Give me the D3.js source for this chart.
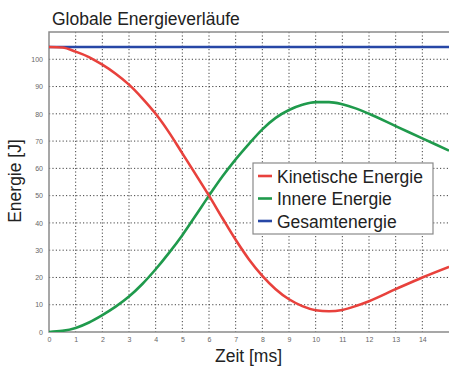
<!DOCTYPE html>
<html>
<head>
<meta charset="utf-8">
<script src="https://cdn.jsdelivr.net/npm/d3@7"></script>
<style>
  html, body { margin: 0; padding: 0; background: #fff; }
  svg { display: block; }
</style>
</head>
<body>
<svg id="chart" width="449" height="367"></svg>
<script>
// ---- data ----
const times   = [0,0.5,1,1.5,2,2.5,3,3.5,4,4.5,5,5.5,6,6.5,7,7.5,8,8.5,9,9.5,10,10.5,11,11.5,12,13,14,15];
const kinetic = [104.5,104.3,102.8,100.8,98,94.7,90.7,85.7,80,73.2,65.5,57.8,50,41.8,33.8,26.6,20.6,15.7,12,9.5,8,7.6,8.1,9.5,11.3,15.7,20,23.9];
const inner   = [0,0.4,1.5,3.5,6.2,9.3,13,17.6,23,29,35.5,42.7,50,57,63.3,69,74.3,78.5,81.4,83.3,84.3,84.3,83.5,82,80,75.5,71,66.5];
const total   = [104.5,104.5,104.5,104.5,104.5,104.5,104.5,104.5,104.5,104.5,104.5,104.5,104.5,104.5,104.5,104.5,104.5,104.5,104.5,104.5,104.5,104.5,104.5,104.5,104.5,104.5,104.5,104.5];
const seriesNames = ["Kinetische Energie","Innere Energie","Gesamtenergie"];
const xTicks = [0,1,2,3,4,5,6,7,8,9,10,11,12,13,14];
const yTicks = [0,10,20,30,40,50,60,70,80,90,100];
const title = "Globale Energieverläufe";
const xLabel = "Zeit [ms]";
const yLabel = "Energie [J]";

// ---- layout ----
const colors = ["#e8413c", "#1f9a4c", "#2747a6"];
const svg = d3.select("#chart");
const L = 49, R = 449, T = 32, B = 332;
const x = d3.scaleLinear().domain([0, 15]).range([L, R]);
const y = d3.scaleLinear().domain([0, 110]).range([B, T]);
const font = "'Liberation Sans', Arial, sans-serif";

svg.append("defs").append("clipPath").attr("id", "clip")
  .append("rect").attr("x", L).attr("y", T).attr("width", R - L).attr("height", B - T);

// grid
const grid = svg.append("g");
grid.selectAll("line.v").data(xTicks.slice(1)).enter().append("line")
  .attr("x1", d => x(d)).attr("x2", d => x(d)).attr("y1", T).attr("y2", B)
  .attr("stroke", "#444").attr("stroke-width", 1).attr("stroke-dasharray", "1.2,2.2");
grid.selectAll("line.h").data(yTicks.slice(1)).enter().append("line")
  .attr("x1", L).attr("x2", R).attr("y1", d => y(d)).attr("y2", d => y(d))
  .attr("stroke", "#444").attr("stroke-width", 1).attr("stroke-dasharray", "1.2,2.2");

// frame
svg.append("rect").attr("x", L).attr("y", T).attr("width", R - L + 2).attr("height", B - T)
  .attr("fill", "none").attr("stroke", "#8a8a8a").attr("stroke-width", 1.5);

// axes via d3
const xAxis = d3.axisBottom(x).tickValues(xTicks).tickSize(0).tickPadding(5).tickFormat(d3.format("d"));
const gx = svg.append("g").attr("transform", `translate(0,${B})`).call(xAxis);
gx.select(".domain").remove();
gx.selectAll("text").attr("font-size", 7).attr("fill", "#666").attr("font-family", font);

const yAxis = d3.axisLeft(y).tickValues(yTicks).tickSize(0).tickPadding(6).tickFormat(d3.format("d"));
const gy = svg.append("g").attr("transform", `translate(${L},0)`).call(yAxis);
gy.select(".domain").remove();
gy.selectAll("text").attr("font-size", 7).attr("fill", "#666").attr("font-family", font);

// lines
const series = [kinetic, inner, total];
const line = d3.line().x((d, i) => x(times[i])).y(d => y(d)).curve(d3.curveMonotoneX);
const lg = svg.append("g").attr("clip-path", "url(#clip)");
[2, 1, 0].forEach(k => {
  lg.append("path").datum(series[k]).attr("d", line)
    .attr("fill", "none").attr("stroke", colors[k]).attr("stroke-width", 2.6)
    .attr("stroke-linejoin", "round");
});

// legend
const leg = svg.append("g");
leg.append("rect").attr("x", 253).attr("y", 163).attr("width", 180).attr("height", 71)
  .attr("fill", "#fff").attr("stroke", "#8a8a8a").attr("stroke-width", 1.2);
seriesNames.forEach((n, i) => {
  const cy = 176 + i * 22.5;
  leg.append("line").attr("x1", 258).attr("x2", 272).attr("y1", cy).attr("y2", cy)
    .attr("stroke", colors[i]).attr("stroke-width", 2.6);
  leg.append("text").attr("x", 277).attr("y", cy + 6.5).text(n)
    .attr("font-family", font).attr("font-size", 17.5).attr("fill", "#222");
});

// titles
svg.append("text").attr("x", 52).attr("y", 25).text(title)
  .attr("font-family", font).attr("font-size", 17.5).attr("fill", "#222");
svg.append("text").attr("x", (215 + 282) / 2).attr("y", 362).attr("text-anchor", "middle").text(xLabel)
  .attr("font-family", font).attr("font-size", 17.5).attr("fill", "#222");
svg.append("text").attr("transform", "translate(21,181) rotate(-90)").attr("text-anchor", "middle").text(yLabel)
  .attr("font-family", font).attr("font-size", 17.5).attr("fill", "#222");
</script>
</body>
</html>
